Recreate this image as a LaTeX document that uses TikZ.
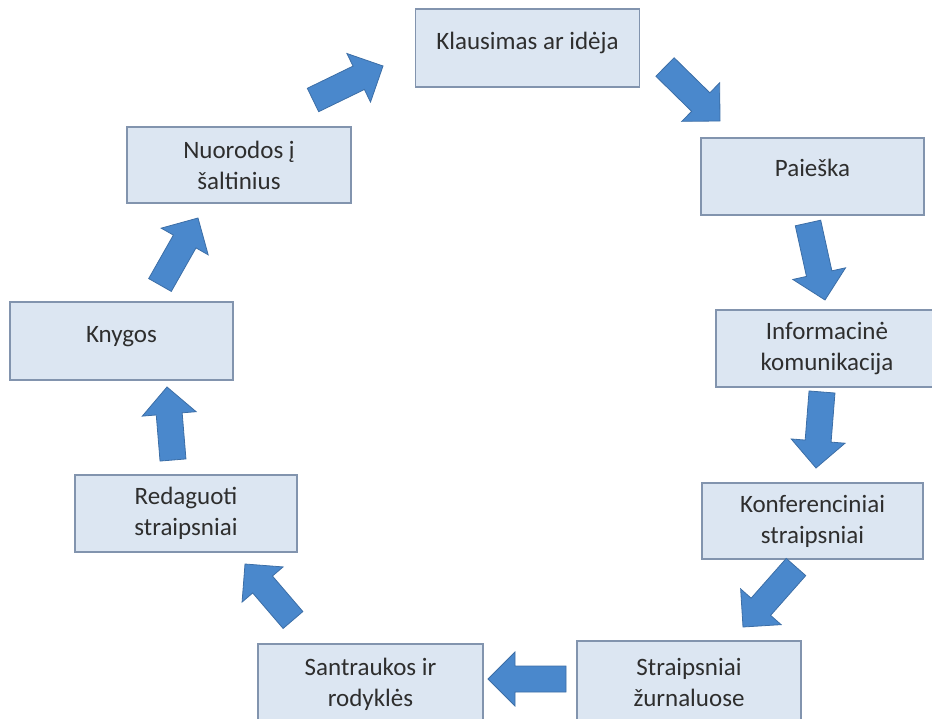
\documentclass[tikz,border=0pt]{standalone}
\usepackage{fontspec}
\setmainfont{Carlito}
\usetikzlibrary{calc}
\definecolor{boxfill}{HTML}{DCE6F2}
\definecolor{boxline}{HTML}{8294AE}
\definecolor{arrfill}{HTML}{4A88CC}
\definecolor{arrline}{HTML}{3C6EA6}
\definecolor{txt}{HTML}{2E2E2E}
\newcommand\shw{13pt}
\newcommand\hdw{27pt}
\newcommand\hdl{27pt}
\newcommand\blockarr[2]{%
  \coordinate (#1n) at ($(#2)!\hdl!(#1)$);
  \draw[blockarrow] ($(#1)!\shw!90:(#2)$) -- ($(#1n)!\shw!90:(#2)$)
    -- ($(#1n)!\hdw!90:(#2)$) -- (#2) -- ($(#1n)!\hdw!-90:(#2)$)
    -- ($(#1n)!\shw!-90:(#2)$) -- ($(#1)!\shw!-90:(#2)$) -- cycle;}
\newcommand\oneline[2]{\raisebox{#1}[0pt][0pt]{#2}}
\begin{document}
\begin{tikzpicture}[x=1pt,y=-1pt,
  stepbox/.style={draw=boxline,fill=boxfill,line width=1.4pt,inner sep=0pt,
    text=txt,align=center,font=\fontsize{25}{31}\selectfont},
  blockarrow/.style={fill=arrfill,draw=arrline,line width=0.8pt,line join=miter}]
\useasboundingbox (0,0) rectangle (932,719);
% boxes
\node[stepbox,minimum width=224pt,minimum height=78pt] (k) at (527.5,48) {\oneline{-2pt}{Klausimas ar idėja}};
\node[stepbox,minimum width=223pt,minimum height=77pt] (p) at (812.5,176.5) {\oneline{0pt}{Paieška}};
\node[stepbox,minimum width=222pt,minimum height=77pt] (i) at (827,348.5) {Informacinė\\komunikacija};
\node[stepbox,minimum width=221pt,minimum height=76pt] (c) at (812.5,521) {Konferenciniai\\straipsniai};
\node[stepbox,minimum width=224pt,minimum height=82pt] (z) at (689,682) {Straipsniai\\žurnaluose};
\node[stepbox,minimum width=225pt,minimum height=80pt] (s) at (370.5,684) {Santraukos ir\\rodyklės};
\node[stepbox,minimum width=222pt,minimum height=77pt] (r) at (186,513.5) {Redaguoti\\straipsniai};
\node[stepbox,minimum width=223pt,minimum height=78pt] (b) at (121.5,341) {\oneline{-2pt}{Knygos}};
\node[stepbox,minimum width=224pt,minimum height=76pt] (n) at (239,165) {Nuorodos į\\šaltinius};
% arrow ends
\coordinate (a1s) at (313,100);  \coordinate (a1e) at (383,66);
\coordinate (a2s) at (665,67);   \coordinate (a2e) at (720,121);
\coordinate (a3s) at (808,223);  \coordinate (a3e) at (825,300);
\coordinate (a4s) at (822,392);  \coordinate (a4e) at (816,468);
\coordinate (a5s) at (796,567);  \coordinate (a5e) at (743,627);
\coordinate (a6s) at (566,679);  \coordinate (a6e) at (488,679);
\coordinate (a7s) at (293,620);  \coordinate (a7e) at (245,564);
\coordinate (a8s) at (173,460);  \coordinate (a8e) at (167,387);
\coordinate (a9s) at (160,285);  \coordinate (a9e) at (198,218);
\blockarr{a1s}{a1e}
\blockarr{a2s}{a2e}
\blockarr{a3s}{a3e}
\blockarr{a4s}{a4e}
\blockarr{a5s}{a5e}
\blockarr{a6s}{a6e}
\blockarr{a7s}{a7e}
\blockarr{a8s}{a8e}
\blockarr{a9s}{a9e}
\end{tikzpicture}
\end{document}
